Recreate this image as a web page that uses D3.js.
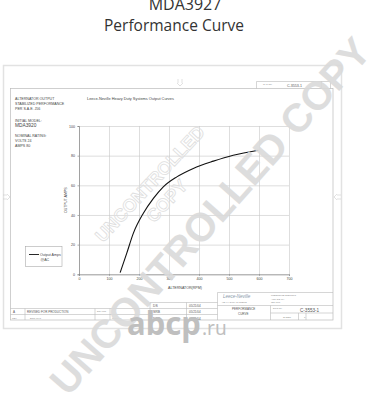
<!DOCTYPE html>
<html>
<head>
<meta charset="utf-8">
<script src="https://cdn.jsdelivr.net/npm/d3@7/dist/d3.min.js"></script>
<style>
  html, body { margin: 0; padding: 0; background: #fff; }
  svg { display: block; }
</style>
</head>
<body>
<div id="chart"></div>
<script>
// data (x in tick units, y in amps)
const speed = [137, 159, 181, 214, 248, 281, 326, 381, 448, 514, 598];
const amps  = [1.1, 14.1, 27.6, 41, 51.2, 59, 65.7, 71.4, 76.3, 80.3, 83.7];
const xTicks = [0, 100, 200, 300, 400, 500, 600, 700];
const yTicks = [0, 20, 40, 60, 80, 100];
const infoLines = ["ALTERNATOR OUTPUT", "STABILIZED PERFORMANCE", "PER S.A.E. J56"];
const ratingLines = ["NOMINAL RATING:", "VOLTS 24", "AMPS 80"];
const signers = ["DS", "SRB", "DAB"];
const dates = ["05/21/04", "05/21/04", "05/21/04"];

const W = 371, H = 400;
const svg = d3.select("#chart").append("svg")
  .attr("width", W).attr("height", H)
  .attr("font-family", "Liberation Sans, Arial, sans-serif");

svg.append("rect").attr("width", W).attr("height", H).attr("fill", "#fff");

// 1) page titles
svg.append("text")
  .attr("x", 185).attr("y", 10)
  .attr("text-anchor", "middle")
  .attr("font-family", "Open Sans, sans-serif")
  .attr("font-size", 16).attr("fill", "#333")
  .text("MDA3927");
svg.append("text")
  .attr("x", 174).attr("y", 31)
  .attr("text-anchor", "middle")
  .attr("font-family", "Open Sans, sans-serif")
  .attr("font-size", 15.5).attr("fill", "#333")
  .text("Performance Curve");

// 2) drawing sheet frames
const sheet = svg.append("g").attr("fill", "none");
sheet.append("rect").attr("x", 3.5).attr("y", 65.5).attr("width", 338).attr("height", 263)
  .attr("stroke", "#e2e2e2").attr("stroke-width", 1.5);
sheet.append("rect").attr("x", 10.5).attr("y", 88.5).attr("width", 322.5).attr("height", 231.5)
  .attr("stroke", "#bbb").attr("stroke-width", 0.7);
// top-right drawing number box
sheet.append("path")
  .attr("d", "M256.5,88.5V81.5H321.5V88.5M321.5,81.5H330.5V88.5")
  .attr("stroke", "#bbb").attr("stroke-width", 0.6);
svg.append("text").attr("x", 263).attr("y", 84.5).attr("font-size", 2.5).attr("fill", "#888").text("CAT No.");
svg.append("text").attr("x", 287).attr("y", 86.5).attr("font-size", 3.6).attr("fill", "#555").text("C-3553-1");

// centering marks
const marks = [[180, 82, 0], [6, 197, -90], [338, 197, 90]];
svg.append("g").selectAll("path").data(marks).join("path")
  .attr("transform", d => `translate(${d[0]},${d[1]}) rotate(${d[2]})`)
  .attr("d", "M-2,-3V1M2,-3V1M-3,1L0,4L3,1")
  .attr("fill", "none").attr("stroke", "#ccc").attr("stroke-width", 0.6);

// 3) left info text
const info = svg.append("g").attr("fill", "#444").attr("font-size", 3.6);
info.selectAll("text.i").data(infoLines).join("text").attr("class", "i")
  .attr("x", 15).attr("y", (d, i) => 99.5 + i * 5).text(d => d);
info.append("text").attr("x", 15).attr("y", 121.5).text("INITIAL MODEL:");
info.append("text").attr("x", 15).attr("y", 127).attr("font-size", 4.8).text("MDA3920");
info.selectAll("text.r").data(ratingLines).join("text").attr("class", "r")
  .attr("x", 15).attr("y", (d, i) => 137 + i * 5).text(d => d);

svg.append("text").attr("x", 87).attr("y", 99.5)
  .attr("font-size", 3.9).attr("fill", "#444")
  .text("Leece-Neville Heavy Duty Systems Output Curves");

// 4) chart scales and axes
const x = d3.scaleLinear().domain([0, 700]).range([79, 289]);
const y = d3.scaleLinear().domain([0, 100]).range([274.3, 126]);

const gridX = svg.append("g")
  .attr("transform", `translate(0,${y(0)})`)
  .call(d3.axisBottom(x).tickValues(xTicks).tickSize(-(y(0) - y(100))).tickFormat(""));
gridX.selectAll("line").attr("stroke", "#c8c8c8").attr("stroke-width", 0.6);
gridX.select(".domain").remove();

const gridY = svg.append("g")
  .attr("transform", `translate(${x(0)},0)`)
  .call(d3.axisLeft(y).tickValues(yTicks).tickSize(-(x(700) - x(0))).tickFormat(""));
gridY.selectAll("line").attr("stroke", "#c8c8c8").attr("stroke-width", 0.6);
gridY.select(".domain").remove();

const axX = svg.append("g")
  .attr("transform", `translate(0,${y(0)})`)
  .call(d3.axisBottom(x).tickValues(xTicks).tickSize(1.5).tickPadding(2));
axX.selectAll("text").attr("font-size", 3.6).attr("fill", "#444").attr("font-family", null);
axX.selectAll("line, path").attr("stroke", "#777").attr("stroke-width", 0.6);

const axY = svg.append("g")
  .attr("transform", `translate(${x(0)},0)`)
  .call(d3.axisLeft(y).tickValues(yTicks).tickSize(1.5).tickPadding(2.5));
axY.selectAll("text").attr("font-size", 3.6).attr("fill", "#444").attr("font-family", null);
axY.selectAll("line, path").attr("stroke", "#777").attr("stroke-width", 0.6);

svg.append("text")
  .attr("transform", `translate(67,${y(50)}) rotate(-90)`)
  .attr("text-anchor", "middle").attr("font-size", 3.6).attr("fill", "#444")
  .text("OUTPUT AMPS");
svg.append("text")
  .attr("x", x(350) + 1).attr("y", 288.5)
  .attr("text-anchor", "middle").attr("font-size", 3.6).attr("fill", "#444")
  .text("ALTERNATOR(RPM)");

// 5) curve
const pts = speed.map((s, i) => ({ s, a: amps[i] }));
svg.append("path")
  .datum(pts)
  .attr("fill", "none").attr("stroke", "#111").attr("stroke-width", 1.1)
  .attr("d", d3.line().curve(d3.curveMonotoneX).x(d => x(d.s)).y(d => y(d.a)));

// 6) legend
const lg = svg.append("g").attr("transform", "translate(25.5,246.5)");
lg.append("rect").attr("width", 36.5).attr("height", 20)
  .attr("fill", "#fff").attr("stroke", "#aaa").attr("stroke-width", 0.6);
lg.append("line").attr("x1", 3.5).attr("x2", 13.5).attr("y1", 8).attr("y2", 8)
  .attr("stroke", "#111").attr("stroke-width", 0.9);
lg.append("text").attr("x", 14.5).attr("y", 9.3).attr("font-size", 3.6).attr("fill", "#444").text("Output Amps");
lg.append("text").attr("x", 15).attr("y", 14.3).attr("font-size", 3.6).attr("fill", "#444").text("@AC");

// 7) title block
const tb = svg.append("g").attr("fill", "none").attr("stroke", "#bbb").attr("stroke-width", 0.6);
tb.append("path").attr("d",
  "M217.5,320V292.5H333M217.5,305.5H333M270.5,305.5V320M270.5,313H333M298.5,313V320M306,313V320" +
  "M10.5,308.5H217.5M10.5,314.5H217.5M25,308.5V320M95,308.5V320M110,308.5V320M150,302.5V320" +
  "M150,302.5H217.5M186.5,302.5V320");
const tt = svg.append("g").attr("fill", "#555").attr("font-size", 3);
tt.append("text").attr("x", 13).attr("y", 313).text("A");
tt.append("text").attr("x", 27).attr("y", 313).text("REVISED FOR PRODUCTION");
tt.append("text").attr("x", 30).attr("y", 318.5).attr("font-size", 2.4).attr("fill", "#888").text("ECN 9741");
tt.append("text").attr("x", 12).attr("y", 318.5).attr("font-size", 2.4).attr("fill", "#888").text("REV");
tt.append("text").attr("x", 97).attr("y", 311.5).attr("font-size", 2.4).attr("fill", "#888").text("DRAWN");
tt.append("text").attr("x", 112).attr("y", 318.5).attr("font-size", 2.4).attr("fill", "#888").text("05/21/04");
tt.selectAll("text.s").data(signers).join("text").attr("class", "s")
  .attr("x", 153).attr("y", (d, i) => 306.5 + i * 6.5).attr("font-size", 3.4).text(d => d);
tt.selectAll("text.d").data(dates).join("text").attr("class", "d")
  .attr("x", 189).attr("y", (d, i) => 306.5 + i * 6.5).attr("font-size", 3).text(d => d);
tt.append("text").attr("x", 223).attr("y", 298).attr("font-size", 4.5)
  .attr("font-style", "italic").attr("fill", "#8a9aaa").text("Leece-Neville");
tt.append("text").attr("x", 222).attr("y", 303).attr("font-size", 2.2).attr("fill", "#888").text("HEAVY DUTY SYSTEMS");
tt.append("text").attr("x", 271).attr("y", 296).attr("font-size", 2.2).attr("fill", "#888").text("PRESTOLITE ELECTRIC");
tt.append("text").attr("x", 271).attr("y", 299.5).attr("font-size", 2.2).attr("fill", "#888").text("ARCADE, NY");
tt.append("text").attr("x", 271).attr("y", 303).attr("font-size", 2.2).attr("fill", "#888").text("ISO 9001");
tt.append("text").attr("x", 232).attr("y", 310).attr("font-size", 3).text("PERFORMANCE");
tt.append("text").attr("x", 238).attr("y", 315).attr("font-size", 3).text("CURVE");
tt.append("text").attr("x", 273).attr("y", 309).attr("font-size", 2.2).attr("fill", "#888").text("DWG No.");
tt.append("text").attr("x", 300).attr("y", 311.7).attr("font-size", 4.6).text("C-3553-1");
tt.append("text").attr("x", 283).attr("y", 318).attr("font-size", 2.4).attr("fill", "#888").text("SHEET");
tt.append("text").attr("x", 304).attr("y", 318).attr("font-size", 2.4).attr("fill", "#888").text("1");

// 8) watermarks
svg.append("text")
  .attr("transform", "translate(150,184) rotate(-47)")
  .attr("text-anchor", "middle").attr("dominant-baseline", "central")
  .attr("font-size", 18).attr("font-weight", "bold")
  .attr("fill", "none").attr("stroke", "#dedede").attr("stroke-width", 0.8)
  .text("UNCONTROLLED");
svg.append("text")
  .attr("transform", "translate(167,201) rotate(-47)")
  .attr("text-anchor", "middle").attr("dominant-baseline", "central")
  .attr("font-size", 18).attr("font-weight", "bold")
  .attr("fill", "none").attr("stroke", "#dedede").attr("stroke-width", 0.8)
  .text("COPY");

svg.append("text")
  .attr("transform", "translate(210,216) rotate(-48.5)")
  .attr("text-anchor", "middle").attr("dominant-baseline", "central")
  .attr("font-size", 40).attr("font-weight", "bold")
  .attr("fill", "#dadada").attr("opacity", 0.9)
  .text("UNCONTROLLED COPY");

svg.append("text")
  .attr("x", 127).attr("y", 335)
  .attr("font-family", "Noto Sans, sans-serif").attr("font-weight", "bold")
  .attr("font-size", 33).attr("textLength", 74).attr("lengthAdjust", "spacingAndGlyphs")
  .attr("fill", "#bfbfbf")
  .text("abcp");
svg.append("text")
  .attr("x", 202).attr("y", 335)
  .attr("font-family", "Noto Sans, sans-serif")
  .attr("font-size", 19).attr("fill", "#bfbfbf")
  .text(".ru");
</script>
</body>
</html>
